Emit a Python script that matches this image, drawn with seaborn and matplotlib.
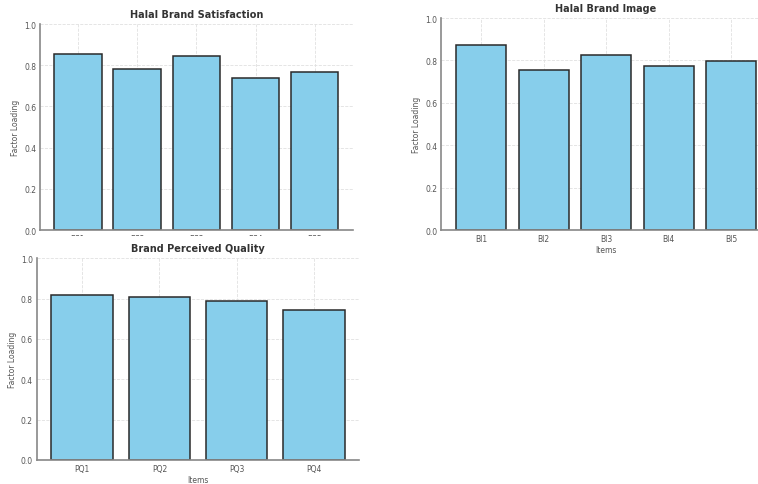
import matplotlib
matplotlib.use('Agg')
import matplotlib.pyplot as plt
import seaborn as sns
from matplotlib.patches import Rectangle

bs_items = ['BS1', 'BS2', 'BS3', 'BS4', 'BS5']
bs_loadings = [0.854, 0.781, 0.846, 0.739, 0.768]

bi_items = ['BI1', 'BI2', 'BI3', 'BI4', 'BI5']
bi_loadings = [0.874, 0.755, 0.827, 0.774, 0.799]

pq_items = ['PQ1', 'PQ2', 'PQ3', 'PQ4']
pq_loadings = [0.817, 0.808, 0.790, 0.742]

sns.set_style('white')
plt.rcParams['font.family'] = ['DejaVu Sans']

fig = plt.figure(figsize=(7.58, 4.85), dpi=100)

ax_bs = fig.add_axes([0.0528, 0.5237, 0.4125, 0.4247])
ax_bi = fig.add_axes([0.5818, 0.5237, 0.4354, 0.4371])
ax_pq = fig.add_axes([0.0484, 0.0495, 0.4256, 0.4159])


def draw(ax, items, loadings, title, xlabel='Items'):
    sns.barplot(x=items, y=loadings, color='skyblue', saturation=1,
                edgecolor='#2a2a2a', linewidth=1.1, width=0.8, ax=ax)
    n = len(items)
    lo, hi = -0.4, n - 1 + 0.4
    m = 0.05 * (hi - lo)
    ax.set_xlim(lo - m, hi + m)
    ax.set_ylim(0, 1.0)
    ax.set_yticks([0.0, 0.2, 0.4, 0.6, 0.8, 1.0])
    ax.grid(True, linestyle='--', color='#e0e0e0', linewidth=0.6)
    ax.set_axisbelow(True)
    for side in ['top', 'right']:
        ax.spines[side].set_visible(False)
    for side in ['left', 'bottom']:
        ax.spines[side].set_color('#888888')
        ax.spines[side].set_linewidth(1.2)
    ax.tick_params(axis='both', labelsize=5.5, colors='#555555', length=1.5,
                   width=0.8, pad=1.2)
    ax.set_title(title, fontsize=7, fontweight='bold', color='#333333', pad=5)
    ax.set_ylabel('Factor Loading', fontsize=5.5, color='#555555', labelpad=3)
    ax.set_xlabel(xlabel, fontsize=5.5, color='#555555', labelpad=1.5)


# x label of the first panel is hidden under the lower panel in the original
draw(ax_bs, bs_items, bs_loadings, 'Halal Brand Satisfaction', xlabel='')
draw(ax_bi, bi_items, bi_loadings, 'Halal Brand Image')
draw(ax_pq, pq_items, pq_loadings, 'Brand Perceived Quality')

# the lower panel sits over the bottom of the first one
fig.patches.append(Rectangle((0, 0), 0.5, 0.5113, transform=fig.transFigure,
                             facecolor='white', edgecolor='none', zorder=1))
ax_pq.set_zorder(2)

fig.savefig('out.png', dpi=100)
